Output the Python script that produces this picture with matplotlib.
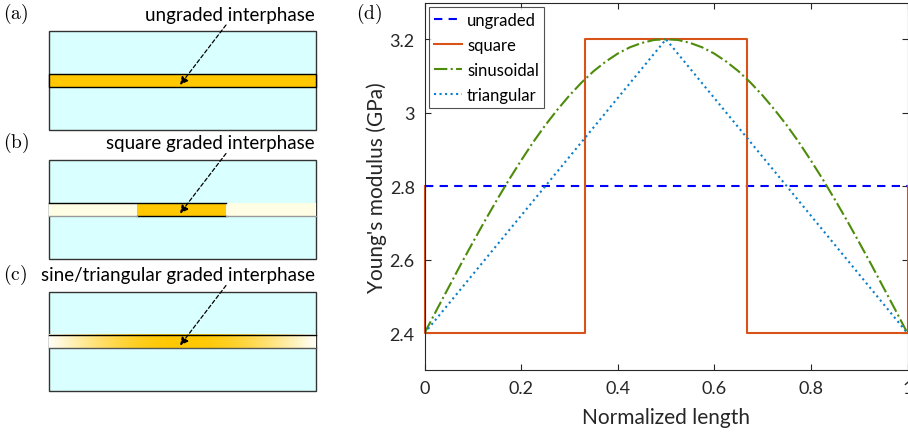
import numpy as np
import matplotlib
matplotlib.use('Agg')
from matplotlib import pyplot as plt
from matplotlib.patches import Rectangle
from matplotlib.colors import LinearSegmentedColormap

plt.rcParams['font.family'] = ['Lato', 'DejaVu Sans']
plt.rcParams['mathtext.fontset'] = 'cm'

# data
x_ungraded = [0.0, 1.0]
y_ungraded = [2.8, 2.8]

x_square = [0.0, 0.0, 0.3333, 0.3333, 0.6667, 0.6667, 1.0, 1.0]
y_square = [2.8, 2.4, 2.4, 3.2, 3.2, 2.4, 2.4, 2.8]

x_sine = [i / 40 for i in range(41)]
y_sine = [2.400, 2.463, 2.525, 2.587, 2.647, 2.706, 2.763, 2.818, 2.870, 2.920,
          2.966, 3.008, 3.047, 3.082, 3.113, 3.139, 3.161, 3.178, 3.190, 3.198,
          3.200,
          3.198, 3.190, 3.178, 3.161, 3.139, 3.113, 3.082, 3.047, 3.008, 2.966,
          2.920, 2.870, 2.818, 2.763, 2.706, 2.647, 2.587, 2.525, 2.463, 2.400]

x_tri = [0.0, 0.5, 1.0]
y_tri = [2.4, 3.2, 2.4]

panel_labels = ['(a)', '(b)', '(c)']
panel_texts = ['ungraded interphase', 'square graded interphase',
               'sine/triangular graded interphase']

cyan = '#d9ffff'
orange = '#ffc800'
pale = '#fffde3'
edge = '#333333'

fig = plt.figure(figsize=(9.08, 4.39), dpi=100)

# ---- left schematics, drawn in pixel units
axl = fig.add_axes([0, 0, 350 / 908, 1])
axl.set_xlim(0, 350)
axl.set_ylim(439, 0)
axl.axis('off')

box_top = [32, 160.5, 292.5]
for k in range(3):
    t = box_top[k]
    axl.add_patch(Rectangle((48.5, t), 267, 99, facecolor=cyan, edgecolor=edge, lw=1.0, zorder=1))
    bt = t + 43
    if k == 0:
        axl.add_patch(Rectangle((48.5, bt), 267, 13.3, facecolor=orange, edgecolor='k', lw=1.0, zorder=2))
    elif k == 1:
        axl.add_patch(Rectangle((48.5, bt), 267, 13.3, facecolor=pale, edgecolor='none', zorder=2))
        axl.add_patch(Rectangle((137, bt), 89, 13.3, facecolor=orange, edgecolor='none', zorder=3))
        axl.plot([48.5, 226], [bt, bt], color='k', lw=1.0, zorder=4)
        axl.plot([137, 226], [bt + 13.3, bt + 13.3], color='k', lw=1.0, zorder=4)
        axl.plot([48.5, 137], [bt + 13.3, bt + 13.3], color='#999999', lw=1.0, zorder=4)
        axl.plot([226, 315.5], [bt + 13.3, bt + 13.3], color='#999999', lw=1.0, zorder=4)
    else:
        cmap = LinearSegmentedColormap.from_list('g', ['#fffdf0', orange])
        grad = (np.array(y_sine) - 2.4) / 0.8
        axl.imshow(grad[None, :], cmap=cmap, aspect='auto', interpolation='bilinear',
                   extent=(48.5, 315.5, bt + 13.3, bt), zorder=2)
        axl.plot([48.5, 315.5], [bt, bt], color='k', lw=1.0, zorder=4)
        axl.plot([48.5, 315.5], [bt + 13.3, bt + 13.3], color='#555555', lw=1.0, zorder=4)
    axl.text(3, t - 18, r'$\mathrm{' + panel_labels[k] + '}$', fontsize=14, va='center', ha='left')
    axl.text(315, t - 17, panel_texts[k], fontsize=13.5, va='center', ha='right')
    axl.annotate('', xy=(180, bt + 11), xytext=(226, t - 6),
                 arrowprops=dict(arrowstyle='-|>', linestyle=(0, (3, 2)), color='k',
                                 lw=0.9, mutation_scale=12, shrinkA=0, shrinkB=0),
                 zorder=5)

# ---- right plot
ax = fig.add_axes([424.5 / 908, 1 - 371 / 439, 483 / 908, 367.5 / 439])
ax.plot(x_ungraded, y_ungraded, '--', color='#0000ff', lw=1.5, label='ungraded', dashes=(4, 3))
ax.plot(x_square, y_square, '-', color='#d95319', lw=1.5, label='square', clip_on=False)
ax.plot(x_sine, y_sine, '-.', color='#4d8c0a', lw=1.5, label='sinusoidal')
ax.plot(x_tri, y_tri, ':', color='#0a7ec8', lw=1.5, label='triangular')
ax.set_xlim(0, 1)
ax.set_ylim(2.3, 3.3)
ax.set_xticks([0, 0.2, 0.4, 0.6, 0.8, 1])
ax.set_xticklabels(['0', '0.2', '0.4', '0.6', '0.8', '1'])
ax.set_yticks([2.4, 2.6, 2.8, 3.0, 3.2])
ax.set_yticklabels(['2.4', '2.6', '2.8', '3', '3.2'])
ax.tick_params(direction='in', length=4, width=0.8, top=True, right=True,
               labelsize=13, colors='#262626', pad=7)
for s in ax.spines.values():
    s.set_color('#262626')
    s.set_linewidth(0.8)
ax.set_xlabel('Normalized length', fontsize=15, color='#262626', labelpad=8)
ax.set_ylabel("Young's modulus (GPa)", fontsize=15, color='#262626', labelpad=2)
leg = ax.legend(loc='upper left', fontsize=12, frameon=True, fancybox=False,
                handlelength=1.7, handletextpad=0.3, labelspacing=0.55,
                borderpad=0.3, borderaxespad=0.25)
leg.get_frame().set_edgecolor('#262626')
leg.get_frame().set_linewidth(0.8)
fig.text(356 / 908, 1 - 14 / 439, r'$\mathrm{(d)}$', fontsize=14, va='center', ha='left')

plt.savefig('out.png', dpi=100)
